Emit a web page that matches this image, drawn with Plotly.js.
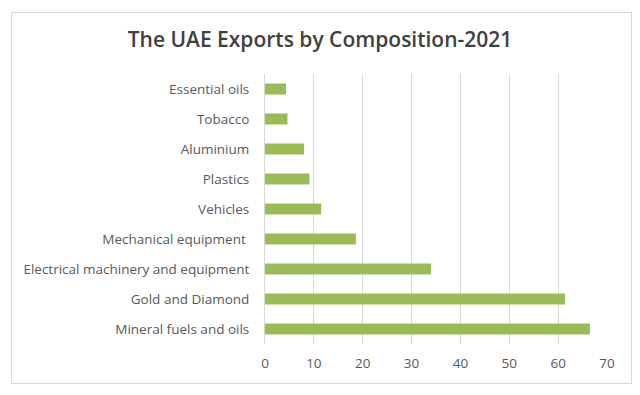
<!DOCTYPE html>
<html>
<head>
<meta charset="utf-8">
<script src="https://cdn.plot.ly/plotly-3.0.1.min.js"></script>
<style>
  html, body { margin: 0; padding: 0; background: #fff; }
  #wrap { position: relative; width: 640px; height: 395px; }
  #chart { width: 640px; height: 395px; }
  #frame { position: absolute; left: 11px; top: 12px; width: 619px; height: 370px;
           border: 1px solid #d9d9d9; pointer-events: none; }
</style>
</head>
<body>
<div id="wrap">
  <div id="chart"></div>
  <div id="frame"></div>
</div>
<script>
const categories = [
  "Mineral fuels and oils",
  "Gold and Diamond",
  "Electrical machinery and equipment",
  "Mechanical equipment ",
  "Vehicles",
  "Plastics",
  "Aluminium",
  "Tobacco",
  "Essential oils"
];
const values = [66.5, 61.4, 34.0, 18.6, 11.5, 9.1, 8.0, 4.6, 4.3];
const xTicks = [0, 10, 20, 30, 40, 50, 60, 70];

const trace = {
  type: 'bar',
  orientation: 'h',
  y: categories,
  x: values,
  marker: { color: '#9bbb59' },
  hoverinfo: 'x+y'
};

const layout = {
  width: 640,
  height: 395,
  margin: { l: 265, r: 33, t: 74, b: 51 },
  paper_bgcolor: '#ffffff',
  plot_bgcolor: '#ffffff',
  bargap: 0.63,
  showlegend: false,
  title: {
    text: 'The UAE Exports by Composition-2021',
    font: { family: '"Open Sans", sans-serif', size: 21, weight: 600, color: '#404040' },
    x: 0.5, xanchor: 'center',
    y: 0.9, yanchor: 'middle'
  },
  xaxis: {
    range: [0, 70],
    tickvals: xTicks,
    ticktext: xTicks.map(String),
    showgrid: true,
    gridcolor: '#d9d9d9',
    gridwidth: 1,
    zeroline: false,
    showline: false,
    ticks: '',
    ticklabelstandoff: 9,
    tickfont: { family: '"Open Sans", sans-serif', size: 13.5, color: '#595959' },
    fixedrange: true
  },
  yaxis: {
    type: 'category',
    categoryorder: 'array',
    categoryarray: categories,
    showgrid: false,
    zeroline: false,
    showline: true,
    linecolor: '#d9d9d9',
    linewidth: 1,
    ticks: '',
    ticklabelstandoff: 12,
    tickfont: { family: '"Open Sans", sans-serif', size: 13.5, color: '#595959' },
    fixedrange: true
  }
};

Plotly.newPlot('chart', [trace], layout, { displayModeBar: false, staticPlot: true });
</script>
</body>
</html>
